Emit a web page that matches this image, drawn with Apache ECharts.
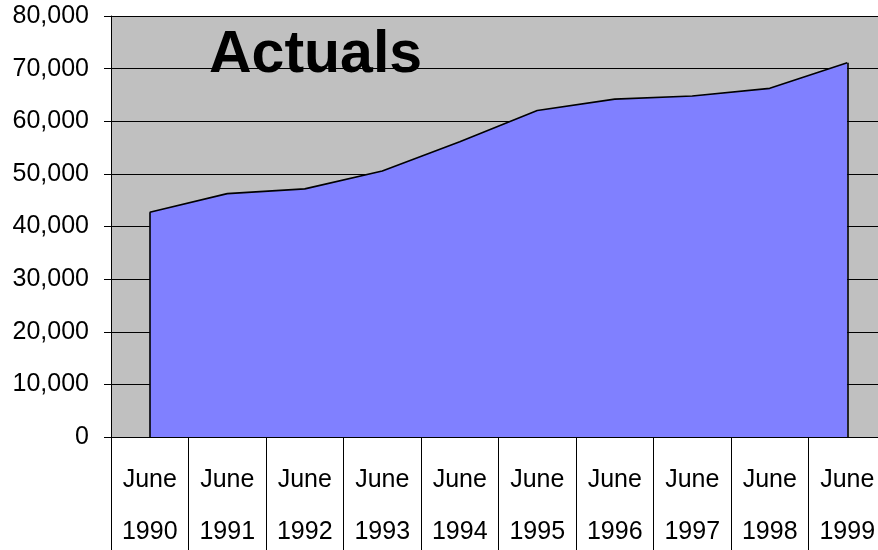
<!DOCTYPE html>
<html>
<head>
<meta charset="utf-8">
<script src="https://cdn.jsdelivr.net/npm/echarts@6/dist/echarts.min.js"></script>
<style>
  html, body { margin: 0; padding: 0; background: #fff; }
  #chart { width: 878px; height: 550px; }
</style>
</head>
<body>
<div id="chart"></div>
<script>
// Yearly actuals, June of each year
const months = ['June', 'June', 'June', 'June', 'June', 'June', 'June', 'June', 'June', 'June'];
const years = ['1990', '1991', '1992', '1993', '1994', '1995', '1996', '1997', '1998', '1999'];
const actuals = [42700, 46250, 47150, 50550, 56100, 62050, 64200, 64800, 66250, 71100];
const yTicks = { min: 0, max: 80000, interval: 10000 };

const categories = months.map((m, i) => m + '\n' + years[i]);
const last = actuals.length - 1;

const chart = echarts.init(document.getElementById('chart'), null, { renderer: 'canvas' });
const font = '"Liberation Sans", Arial, sans-serif';

chart.setOption({
  animation: false,
  backgroundColor: '#ffffff',
  title: {
    text: 'Actuals',
    left: 204,
    top: 21,
    textStyle: { fontFamily: font, fontSize: 59, fontWeight: 'bold', color: '#000' }
  },
  grid: {
    left: 111, right: -8, top: 16, bottom: 113,
    outerBoundsMode: 'none',
    containLabel: false,
    show: true, backgroundColor: '#c0c0c0', borderWidth: 0
  },
  xAxis: {
    type: 'category',
    data: categories,
    boundaryGap: true,
    axisLine: { show: true, lineStyle: { color: '#000', width: 1 } },
    axisTick: { show: true, interval: 0, length: 113, alignWithLabel: false, lineStyle: { color: '#000', width: 1 } },
    axisLabel: {
      interval: 0, margin: 17, lineHeight: 52,
      fontFamily: font, fontSize: 25, color: '#000'
    },
    splitLine: { show: false }
  },
  yAxis: {
    type: 'value',
    min: yTicks.min, max: yTicks.max, interval: yTicks.interval,
    axisLine: { show: true, lineStyle: { color: '#000', width: 1 } },
    axisTick: { show: true, length: 7, lineStyle: { color: '#000', width: 1 } },
    axisLabel: {
      margin: 22, fontFamily: font, fontSize: 25, color: '#000',
      formatter: v => v.toLocaleString('en-US')
    },
    splitLine: { show: true, lineStyle: { color: '#000', width: 1 } }
  },
  series: [{
    type: 'line',
    data: actuals,
    symbol: 'none',
    lineStyle: { color: '#000', width: 1.6 },
    areaStyle: { color: '#8080ff', opacity: 1, origin: 'start' },
    markLine: {
      silent: true,
      symbol: ['none', 'none'],
      label: { show: false },
      lineStyle: { color: '#000', width: 1.6, type: 'solid' },
      data: [
        [{ coord: [0, actuals[0]] }, { coord: [0, 0] }],
        [{ coord: [last, actuals[last]] }, { coord: [last, 0] }]
      ]
    }
  }]
});
</script>
</body>
</html>
